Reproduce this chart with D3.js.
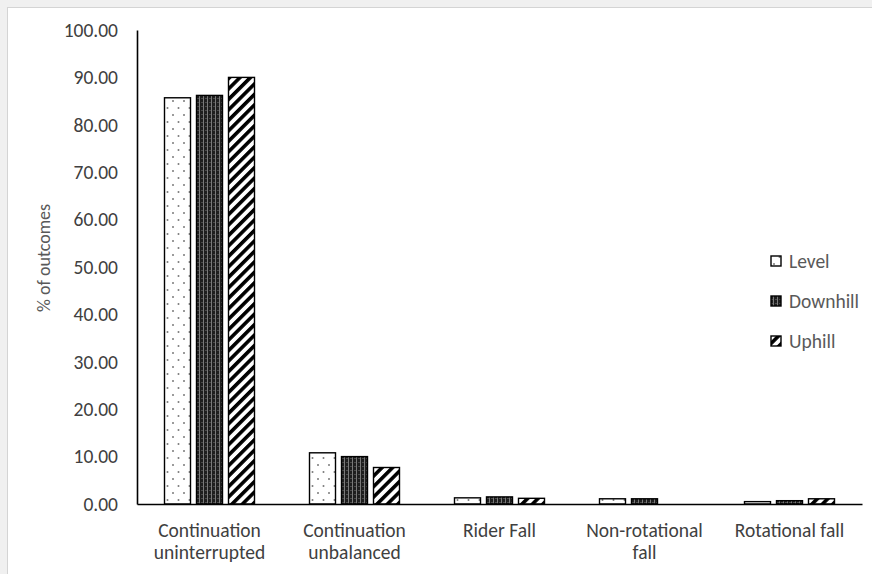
<!DOCTYPE html>
<html>
<head>
<meta charset="utf-8">
<script src="https://cdn.jsdelivr.net/npm/d3@7"></script>
<style>
  html, body { margin: 0; padding: 0; background: #f0f0f0; }
  svg { display: block; }
  text { font-family: Carlito, Lato, "Open Sans", sans-serif; }
</style>
</head>
<body>
<svg id="chart" width="872" height="574"></svg>
<script>
// Outcome categories and percentage of outcomes per slope condition
const categories = [
  ["Continuation", "uninterrupted"],
  ["Continuation", "unbalanced"],
  ["Rider Fall"],
  ["Non-rotational", "fall"],
  ["Rotational fall"]
];
const seriesNames = ["Level", "Downhill", "Uphill"];
const level    = [85.7, 10.8, 1.3, 1.1, 0.5];
const downhill = [86.2, 10.0, 1.5, 1.1, 0.7];
const uphill   = [90.0, 7.7, 1.2, 0.0, 1.1];
const yTicks   = [0, 10, 20, 30, 40, 50, 60, 70, 80, 90, 100];

const seriesValues = [level, downhill, uphill];
const rows = categories.map((c, i) => ({
  key: i,
  label: c,
  values: seriesNames.map((s, j) => ({ series: s, value: seriesValues[j][i] }))
}));

const svg = d3.select("#chart");
const W = 872, H = 574;

// panel background with thin frame
svg.append("rect").attr("x", 0).attr("y", 0).attr("width", W).attr("height", H).attr("fill", "#f0f0f0");
svg.append("rect").attr("x", 7.5).attr("y", 7.5).attr("width", W + 10).attr("height", H + 10)
  .attr("fill", "#ffffff").attr("stroke", "#d4d4d4").attr("stroke-width", 1);

const defs = svg.append("defs");

// Level: sparse grey dots on white
const pDots = defs.append("pattern").attr("id", "pat-level").attr("patternUnits", "userSpaceOnUse")
  .attr("width", 11).attr("height", 14);
pDots.append("rect").attr("width", 11).attr("height", 14).attr("fill", "#fff");
pDots.append("circle").attr("cx", 3).attr("cy", 3).attr("r", 1).attr("fill", "#7a7a7a");
pDots.append("circle").attr("cx", 8.5).attr("cy", 10).attr("r", 1).attr("fill", "#7a7a7a");

// Downhill: dark fill with fine lighter vertical stripes
const pDark = defs.append("pattern").attr("id", "pat-downhill").attr("patternUnits", "userSpaceOnUse")
  .attr("width", 4).attr("height", 4);
pDark.append("rect").attr("width", 4).attr("height", 4).attr("fill", "#1e1e1e");
pDark.append("rect").attr("x", 2).attr("y", 0).attr("width", 1).attr("height", 4).attr("fill", "#7a7a7a");
pDark.append("rect").attr("x", 0).attr("y", 2).attr("width", 2).attr("height", 1).attr("fill", "#4a4a4a");

// Uphill: wide upward diagonal stripes
const pDiag = defs.append("pattern").attr("id", "pat-uphill").attr("patternUnits", "userSpaceOnUse")
  .attr("width", 7.4).attr("height", 7.4).attr("patternTransform", "rotate(45)");
pDiag.append("rect").attr("width", 7.4).attr("height", 7.4).attr("fill", "#fff");
pDiag.append("rect").attr("x", 0).attr("y", 0).attr("width", 3.6).attr("height", 7.4).attr("fill", "#000");

const fills = { Level: "url(#pat-level)", Downhill: "url(#pat-downhill)", Uphill: "url(#pat-uphill)" };

const margin = { left: 137, top: 30 };
const plotRight = 862, plotBottom = 504;

const x0 = d3.scaleBand().domain(rows.map(r => r.key)).range([margin.left, plotRight]).padding(0);
const x1 = d3.scaleBand().domain(seriesNames).range([27.5, 117.5]).paddingInner(0.1875);
const y = d3.scaleLinear().domain([0, 100]).range([plotBottom, margin.top]);

// bars
const groups = svg.append("g").selectAll("g").data(rows).join("g")
  .attr("transform", d => `translate(${x0(d.key)},0)`);
groups.selectAll("rect").data(d => d.values.filter(v => v.value > 0)).join("rect")
  .attr("x", d => x1(d.series))
  .attr("y", d => y(d.value))
  .attr("width", x1.bandwidth())
  .attr("height", d => y(0) - y(d.value))
  .attr("fill", d => fills[d.series])
  .attr("stroke", "#000")
  .attr("stroke-width", 1.4);

// y axis
const yAxis = d3.axisLeft(y).tickValues(yTicks).tickSize(0).tickPadding(19)
  .tickFormat(d3.format(".2f"));
const gy = svg.append("g").attr("transform", `translate(${margin.left},0)`).call(yAxis);
gy.select(".domain").attr("stroke", "#000").attr("stroke-width", 1.6);
gy.selectAll("text").attr("font-size", 19.5).attr("fill", "#404040")
  .attr("font-family", "Carlito, Lato, sans-serif");

// x axis
const xAxis = d3.axisBottom(x0).tickSize(0).tickFormat("");
const gx = svg.append("g").attr("transform", `translate(0,${plotBottom})`).call(xAxis);
gx.select(".domain").attr("stroke", "#000").attr("stroke-width", 1.6);

// category labels (wrapped)
const cl = svg.append("g").selectAll("text").data(rows).join("text")
  .attr("x", d => x0(d.key) + x0.bandwidth() / 2)
  .attr("y", 537)
  .attr("text-anchor", "middle")
  .attr("font-size", 19.5)
  .attr("fill", "#404040");
cl.selectAll("tspan").data(d => d.label).join("tspan")
  .attr("x", function() { return d3.select(this.parentNode).attr("x"); })
  .attr("dy", (d, i) => i === 0 ? 0 : 22)
  .text(d => d);

// y axis title
svg.append("text")
  .attr("transform", "translate(50,258) rotate(-90)")
  .attr("text-anchor", "middle")
  .attr("font-size", 18)
  .attr("fill", "#595959")
  .text("% of outcomes");

// legend
const legend = svg.append("g").selectAll("g").data(seriesNames).join("g")
  .attr("transform", (d, i) => `translate(771,${261 + i * 40})`);
legend.append("rect")
  .attr("x", 0).attr("y", -5).attr("width", 10).attr("height", 10)
  .attr("fill", d => fills[d]).attr("stroke", "#000").attr("stroke-width", 1.4);
legend.append("text")
  .attr("x", 18).attr("y", 0).attr("dy", "0.36em")
  .attr("font-size", 19.5).attr("fill", "#595959")
  .text(d => d);
</script>
</body>
</html>
